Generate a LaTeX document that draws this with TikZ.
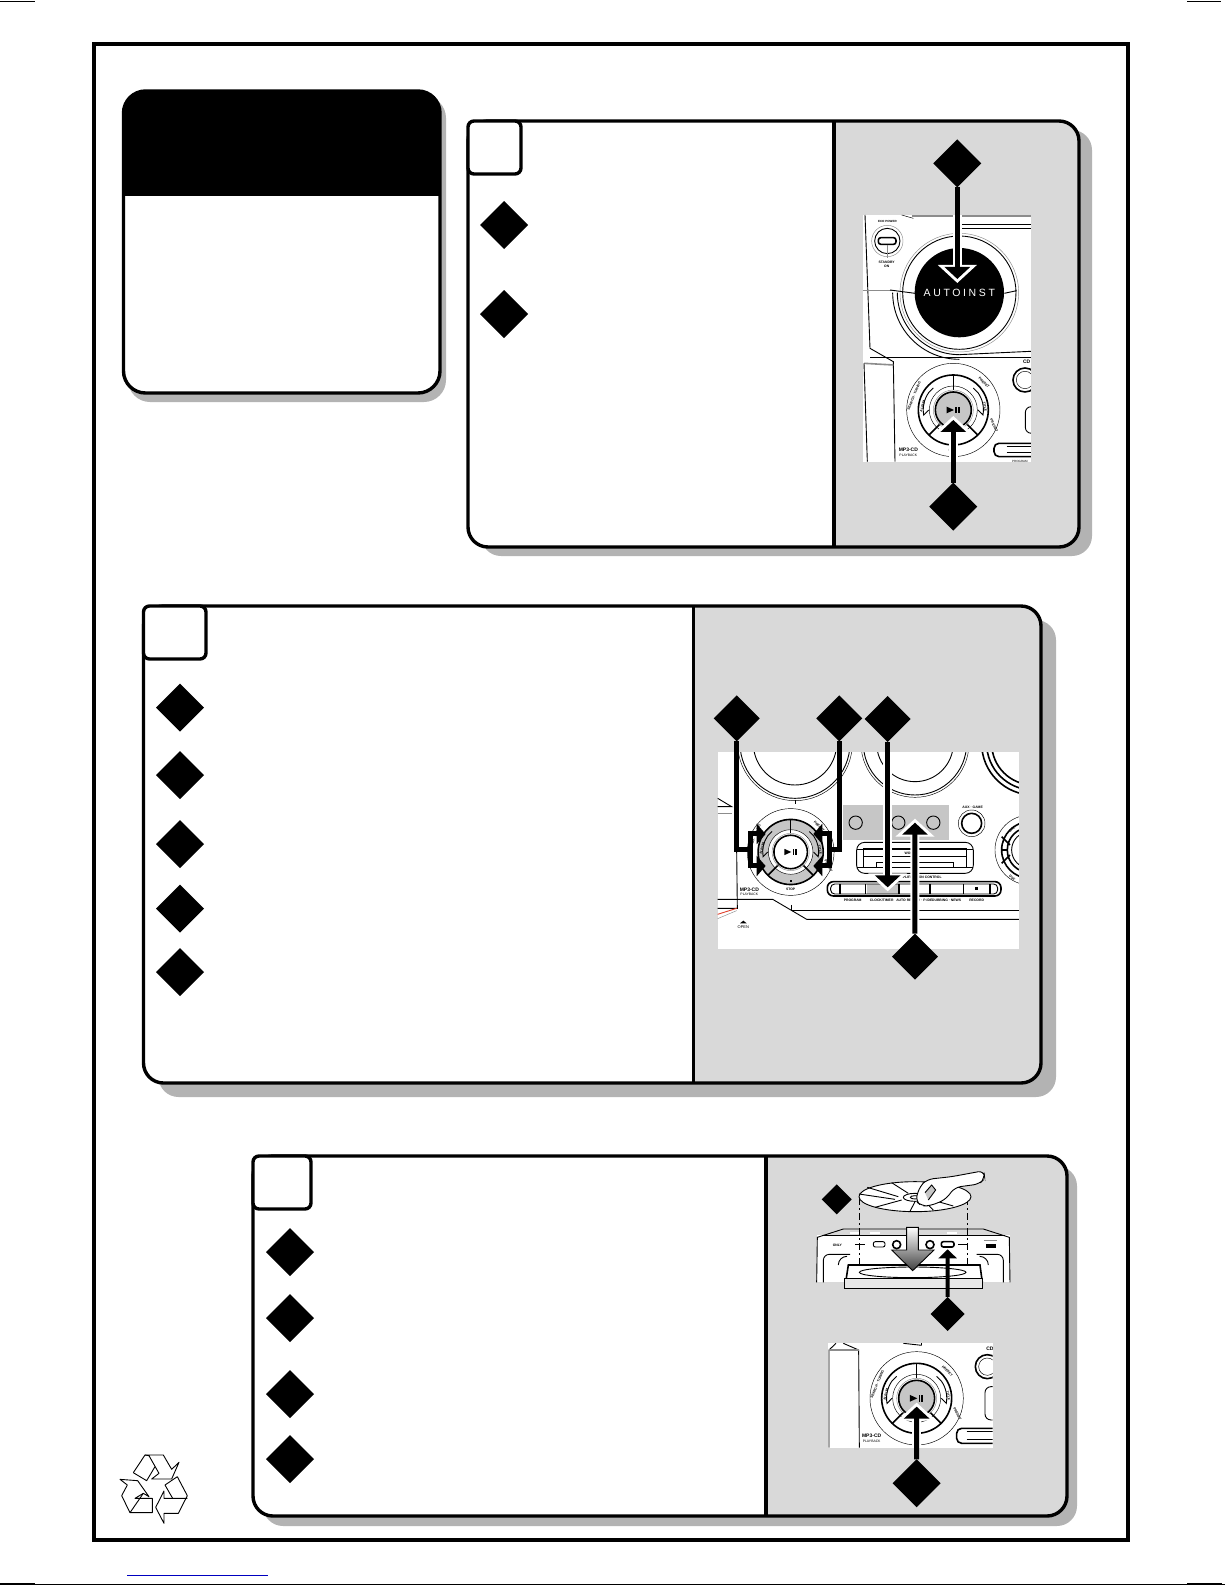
\documentclass[tikz,border=0pt]{standalone}
\usepackage{fontspec}
\setmainfont{Liberation Sans}
\usetikzlibrary{arrows.meta,shapes.geometric}
\definecolor{PanelGray}{HTML}{D9D9D9}
\definecolor{ShadowGray}{HTML}{B3B3B3}
\definecolor{KeyGray}{HTML}{C6C6C6}
\definecolor{RuleGray}{HTML}{8C8C8C}
\definecolor{LinkBlue}{HTML}{0000C0}
\definecolor{FlashRed}{HTML}{E0402C}
\tikzset{
  panelline/.style={line width=3.4pt},
  marker/.style={diamond,fill=black,inner sep=0pt,outer sep=0pt,aspect=1},
  stem/.style={line width=5pt,-{Triangle[length=12pt,width=25pt]}},
  halo/.style={white,line width=9pt,shorten >=-4pt,-{Triangle[length=18pt,width=38pt]}},
  bar/.style={line width=5pt},
  barhead/.style={line width=5pt,-{Triangle[length=9pt,width=20pt]}},
  fine/.style={line width=.45pt},
  mid/.style={line width=.9pt},
  heavy/.style={line width=1.6pt},
  micro/.style={font=\fontsize{3.4}{3.8}\selectfont\bfseries,inner sep=0pt,align=center},
  tagbig/.style={font=\fontsize{5}{5}\selectfont\bfseries,inner sep=0pt},
  dialsize/.style={xscale=#1,yscale=-#1},
  pics/playdial/.style 2 args={code={
    \draw[fine] (0,0) circle[radius=140];
    \draw[heavy,fill=#2] (0,0) circle[radius=105];
    \draw[fine,fill=white] (0,0) circle[radius=72];
    \draw[heavy] (0,-104) -- (0,-60);
    \draw[heavy] (-40,42) -- (-74,76);
    \draw[heavy] (40,42) -- (74,76);
    \draw[mid] (-60,-66) -- (-74,-52) arc[start angle=215,end angle=170,radius=90] -- (-74,0);
    \draw[mid] (60,-66) -- (74,-52) arc[start angle=-35,end angle=10,radius=90] -- (74,0);
    \draw[heavy,fill=#1] (0,0) circle[radius=54];
    \draw[RuleGray,fine] (0,0) circle[radius=60];
    \fill (-20,-10) -- (-20,10) -- (2,0) -- cycle;
    \fill (6,-10) rectangle (11,10);
    \fill (14,-10) rectangle (19,10);
    \fill (-3,90) rectangle (3,96);
    \node[micro,rotate=-45] (preset) at (92,-82) {PRESET};
    \node[micro,rotate=-78] (title) at (95,-8) {TITLE};
    \node[micro,rotate=-62] (presetlow) at (122,46) {PRESET};
    \node[micro,rotate=75] (album) at (-92,-12) {ALBUM};
    \node[micro,rotate=68] (search) at (-118,-42) {SEARCH · TUNING};
    \node[micro] (stop) at (0,122) {STOP};
  }}
}
\newcommand{\stepcard}[7]{
  \fill[ShadowGray,rounded corners=20pt] (#1+#6,#2+#7) rectangle (#3+#6,#4+#7);
  \fill[white,rounded corners=20pt] (#1,#2) rectangle (#3,#4);
  \begin{scope}
    \clip[rounded corners=20pt] (#1,#2) rectangle (#3,#4);
    \fill[PanelGray] (#5,#2) rectangle (#3,#4);
  \end{scope}
  \draw[panelline] (#5,#2) -- (#5,#4);
  \draw[panelline,rounded corners=20pt] (#1,#2) rectangle (#3,#4);
}
\begin{document}
\begin{tikzpicture}[x=1pt,y=1pt,yscale=-1]
\useasboundingbox (0,0) rectangle (1225,1585);
% crop marks and link
\draw[line width=1pt] (0,1.5) -- (35,1.5);
\draw[line width=1pt] (1187,1.5) -- (1221,1.5);
\draw[line width=.6pt] (0,1584.3) -- (1225,1584.3);
\draw[line width=1.2pt] (0,1584) -- (35,1584);
\draw[line width=1.2pt] (1187,1584) -- (1222,1584);
\draw[LinkBlue,line width=1pt] (127,1575) -- (268,1575);
\draw[line width=4pt] (94,43.5) rectangle (1128,1540);

% title card
\fill[ShadowGray,rounded corners=22pt] (128,96) rectangle (446,402);
\fill[white,rounded corners=22pt] (123.5,91) rectangle (440,393);
\begin{scope}
  \clip[rounded corners=22pt] (123.5,91) rectangle (440,393);
  \fill[black] (123.5,91) rectangle (440,196);
\end{scope}
\draw[panelline,rounded corners=22pt] (123.5,91) rectangle (440,393);

% step cards
\stepcard{468}{121}{1079}{547}{834}{13}{9}
\stepcard{143.5}{606}{1041}{1083}{693.5}{15}{14}
\stepcard{253}{1156}{1067}{1516}{766}{10}{10}
\draw[panelline,fill=white,rounded corners=6pt] (468,121) rectangle (521,174);
\draw[panelline,fill=white,rounded corners=6pt] (143.5,606) rectangle (206,659);
\draw[panelline,fill=white,rounded corners=6pt] (253,1156) rectangle (311,1209);

% list markers
\node[marker,minimum size=48pt] (oneA) at (504,225) {};
\node[marker,minimum size=48pt] (oneB) at (504,314) {};
\node[marker,minimum size=48pt] (twoA) at (180,707.5) {};
\node[marker,minimum size=48pt] (twoB) at (180,775) {};
\node[marker,minimum size=48pt] (twoC) at (180,844) {};
\node[marker,minimum size=48pt] (twoD) at (180,908.5) {};
\node[marker,minimum size=48pt] (twoE) at (180,972) {};
\node[marker,minimum size=48pt] (threeA) at (290,1252) {};
\node[marker,minimum size=48pt] (threeB) at (290,1318) {};
\node[marker,minimum size=48pt] (threeC) at (290,1394) {};
\node[marker,minimum size=48pt] (threeD) at (290,1459) {};

% front panel, display
\begin{scope}[shift={(840,130)},scale=.3333]
  \fill[white] (68,255) rectangle (573,995);
  \begin{scope}
    \clip (68,255) rectangle (573,995);
    \draw[RuleGray,heavy] (215,258) -- (573,258);
    \draw[fine] (185,255) -- (220,265);
    \draw[mid] (360,283) -- (573,283);
    \draw[mid] (365,296) -- (573,296);
    \draw[mid] (75,255) -- (90,655) -- (160,695) -- (165,995);
    \draw[RuleGray,heavy] (68,482) -- (155,482);
    \draw[RuleGray,heavy] (72,700) -- (160,705);
    \draw[mid] (72,700) -- (82,995);
    \draw[RuleGray,fine] (142,333) circle[radius=47];
    \draw[mid] (142,333) circle[radius=38];
    \draw[heavy,rounded corners=2.5pt] (115,323) rectangle (168,343);
    \draw[RuleGray,fine] (142,345) -- (142,385);
    \draw[RuleGray,fine] (358,488) circle[radius=178];
    \draw[mid] (358,488) circle[radius=170];
    \fill[black] (358,488) circle[radius=134];
    \draw[mid] (150,480) -- (225,490);
    \draw[mid] (493,490) -- (530,482);
    \draw[mid] (158,488) arc[start angle=180,end angle=90,radius=200];
    \draw[mid] (172,488) arc[start angle=180,end angle=90,radius=186];
    \draw[mid] (358,674) -- (573,664);
    \draw[fine] (90,683) -- (573,683);
    \draw[heavy] (555,750) circle[radius=36];
    \draw[fine] (555,750) circle[radius=26];
    \draw[mid,rounded corners=6pt] (556,830) rectangle (620,910);
    \draw[heavy,rounded corners=5pt] (462,940) rectangle (620,980);
    \draw[mid] (500,950) -- (573,950);
    \draw[mid] (500,968) -- (573,968);
    \pic[dialsize=.3333] at (340,840) {playdial={KeyGray}{white}};
    \node[font=\fontsize{3}{3}\selectfont\bfseries,inner sep=0pt] (ecoOne) at (142,274) {ECO POWER};
    \node[micro] (standbyOne) at (140,402) {STANDBY\\ON};
    \node[tagbig] (cdOne) at (560,695) {CD};
    \node[tagbig] (mpOne) at (205,958) {MP3-CD};
    \node[micro,font=\fontsize{3.4}{3.8}\selectfont] (playOne) at (205,977) {PLAYBACK};
    \node[micro,font=\fontsize{3}{3}\selectfont] (progOne) at (540,994) {PROGRAM};
    \node[white,inner sep=0pt,font=\fontsize{10.5}{11}\selectfont\addfontfeature{LetterSpace=25}] (lcd) at (358,490) {AUTOINST};
  \end{scope}
  \coordinate (edgeTop) at (352,255);
  \coordinate (tipTop) at (352,447);
  \coordinate (tipPlay) at (340,870);
  \coordinate (edgeLow) at (340,995);
  \node[marker,minimum size=48pt] (markTop) at (352,100) {};
  \node[marker,minimum size=48pt] (markLow) at (340,1130) {};
  \draw[halo] (edgeTop) -- (tipTop);
  \draw[halo] (edgeLow) -- (tipPlay);
  \draw[stem] (markTop) -- (tipTop);
  \draw[stem] (markLow) -- (tipPlay);
\end{scope}

% front panel, control row
\begin{scope}[shift={(700,680)},scale=.3333]
  \fill[white] (53,217) rectangle (957,807);
  \begin{scope}
    \clip (53,217) rectangle (957,807);
    \draw[mid] (285,190) circle[radius=165];
    \draw[mid] (285,190) circle[radius=125];
    \draw[fine] (285,190) circle[radius=172];
    \draw[fine] (285,360) -- (285,372);
    \draw[mid] (645,190) circle[radius=155];
    \draw[mid] (645,190) circle[radius=115];
    \draw[fine] (645,190) circle[radius=162];
    \draw[heavy] (1000,190) circle[radius=155];
    \draw[heavy] (1000,190) circle[radius=140];
    \draw[heavy] (1000,190) circle[radius=125];
    \draw[mid] (53,355) -- (95,380) -- (53,380);
    \draw[RuleGray,heavy] (53,400) -- (95,400);
    \fill[KeyGray] (430,375) rectangle (747,480);
    \draw[mid] (467,428) circle[radius=20];
    \draw[mid] (595,428) circle[radius=20];
    \draw[mid] (700,428) circle[radius=20];
    \draw[heavy] (815,430) circle[radius=30];
    \draw[fine] (815,430) circle[radius=40];
    \draw[fine] (990,510) circle[radius=105];
    \draw[heavy] (990,510) circle[radius=85];
    \draw[heavy] (990,510) circle[radius=68];
    \draw[mid] (990,510) circle[radius=55];
    \draw[heavy] (905,470) -- (930,495);
    \draw[heavy] (905,550) -- (930,525);
    \draw[heavy] (905,510) -- (925,510);
    \draw[mid,rounded corners=8pt,fill=white] (470,487) rectangle (820,580);
    \draw[heavy] (490,507) rectangle (800,562);
    \draw[mid] (490,530) -- (800,530);
    \draw[mid] (530,562) -- (530,548) -- (760,548) -- (760,562);
    \draw[fine] (470,507) -- (490,507);
    \draw[fine] (820,507) -- (800,507);
    \draw[fine] (470,562) -- (490,562);
    \draw[fine] (820,562) -- (800,562);
    \draw[heavy,rounded corners=6pt] (382,605) rectangle (903,648);
    \fill[KeyGray] (500,612) rectangle (597,642);
    \draw[mid,rounded corners=4pt] (392,612) rectangle (893,642);
    \draw[heavy] (420,612) -- (420,642);
    \draw[heavy] (497,612) -- (497,642);
    \draw[heavy] (597,612) -- (597,642);
    \draw[heavy] (690,612) -- (690,642);
    \draw[heavy] (790,612) -- (790,642);
    \draw[heavy] (870,612) -- (870,642);
    \fill (825,622) rectangle (833,630);
    \draw[mid] (53,658) -- (218,658) -- (320,718) -- (957,718);
    \draw[mid] (275,675) -- (275,690) -- (957,690);
    \draw[mid] (110,512) -- (112,685) -- (53,685);
    \draw[FlashRed,mid] (53,703) -- (110,685);
    \draw[RuleGray,fine] (53,716) -- (110,692);
    \fill (120,730) -- (140,730) -- (130,722) -- cycle;
    \pic[dialsize=.31] at (272,516) {playdial={white}{KeyGray}};
    \node[tagbig] (mpTwo) at (148,630) {MP3-CD};
    \node[micro,font=\fontsize{3.4}{3.8}\selectfont] (playTwo) at (148,643) {PLAYBACK};
    \node[micro,font=\fontsize{4}{4}\selectfont] (openTwo) at (130,741) {OPEN};
    \node[micro] (auxTwo) at (818,381) {AUX · GAME};
    \node[micro,fill=white] (wooxTwo) at (630,520) {WOOX};
    \node[micro,fill=white] (ampTwo) at (642,592) {LIGHT AMPLIFICATION CONTROL};
    \node[micro] (progTwo) at (458,662) {PROGRAM};
    \node[micro] (clockTwo) at (545,662) {CLOCK/TIMER};
    \node[micro] (autoTwo) at (643,662) {AUTO REPLAY · P-IDE};
    \node[micro] (dubTwo) at (740,662) {DUBBING · NEWS};
    \node[micro] (recTwo) at (830,662) {RECORD};
    \node[micro,rotate=40] (dscUp) at (937,447) {DSC};
    \node[micro,rotate=-40] (dscLow) at (937,595) {DSC};
  \end{scope}
  \node[marker,minimum size=46pt] (markLeft) at (110,115) {};
  \node[marker,minimum size=46pt] (markRight) at (418,115) {};
  \node[marker,minimum size=46pt] (markClock) at (563,117) {};
  \node[marker,minimum size=46pt] (markGroup) at (645,830) {};
  \coordinate (jLeft) at (110,510);
  \coordinate (kLeft) at (150,510);
  \coordinate (tipLeftUp) at (197,462);
  \coordinate (tipLeftDown) at (197,558);
  \coordinate (jRight) at (418,510);
  \coordinate (kRight) at (388,510);
  \coordinate (tipRightUp) at (340,462);
  \coordinate (tipRightDown) at (340,558);
  \coordinate (edgeClock) at (563,217);
  \coordinate (tipClock) at (563,622);
  \coordinate (tipGroup) at (645,428);
  \draw[bar,line join=miter] (markLeft) -- (jLeft) -- (kLeft);
  \draw[barhead] (kLeft) |- (tipLeftUp);
  \draw[barhead] (kLeft) |- (tipLeftDown);
  \draw[bar,line join=miter] (markRight) -- (jRight) -- (kRight);
  \draw[barhead] (kRight) |- (tipRightUp);
  \draw[barhead] (kRight) |- (tipRightDown);
  \draw[halo] (edgeClock) -- (tipClock);
  \draw[halo] (markGroup) -- (tipGroup);
  \draw[stem] (markClock) -- (tipClock);
  \draw[stem] (markGroup) -- (tipGroup);
\end{scope}

% disc tray and dial
\begin{scope}[shift={(780,1150)},scale=.3333]
  \fill[white] (110,255) rectangle (690,397);
  \draw[mid] (110,397) -- (112,262) -- (190,237) -- (610,237) -- (688,262) -- (690,397);
  \draw[fine] (125,255) -- (675,255);
  \fill[white] (210,245) rectangle (240,251);
  \fill[white] (270,245) rectangle (300,251);
  \fill[white] (500,245) rectangle (530,251);
  \draw[mid,rounded corners=6pt] (130,397) -- (130,313) -- (210,313);
  \draw[mid,rounded corners=6pt] (670,397) -- (670,313) -- (590,313);
  \draw[mid] (175,345) arc[start angle=180,end angle=270,radius=26];
  \draw[mid] (625,345) arc[start angle=0,end angle=-90,radius=26];
  \draw[mid] (225,283) -- (255,283);
  \draw[mid] (535,283) -- (565,283);
  \draw[mid,rounded corners=2pt] (280,275) rectangle (315,291);
  \draw[heavy,fill=white,rounded corners=2pt] (484,275) rectangle (522,291);
  \draw[heavy,fill=white] (350,284) circle[radius=12];
  \draw[heavy,fill=white] (450,284) circle[radius=12];
  \fill (618,281) rectangle (648,293);
  \draw[RuleGray,line width=.8pt] (612,272) -- (652,272);
  \node[micro] (onlyThree) at (172,285) {ONLY};
  \fill[white] (205,345) rectangle (600,385);
  \draw[heavy] (197,397) -- (205,345) -- (600,345) -- (607,397);
  \draw[mid] (398,367) ellipse[x radius=160,y radius=16];
  \draw[heavy,fill=KeyGray!40!white] (193,385) rectangle (607,415);
  \draw[mid,dash pattern=on 7pt off 3pt on 2pt off 3pt] (238,145) -- (238,345);
  \draw[mid,dash pattern=on 7pt off 3pt on 2pt off 3pt] (563,145) -- (563,345);
  \shade[draw=black,mid,top color=white,bottom color=black!75] (380,232) -- (415,232) -- (415,300) -- (462,300) -- (398,362) -- (335,300) -- (380,300) -- cycle;
  \draw[mid,fill=white] (405,140) ellipse[x radius=168,y radius=45];
  \draw[mid] (237,132) -- (345,148);
  \draw[mid] (262,112) -- (355,140);
  \draw[mid] (335,98) -- (385,130);
  \draw[mid] (460,180) -- (430,150);
  \draw[mid] (390,184) -- (405,155);
  \draw[mid] (285,172) -- (365,150);
  \draw[mid] (520,168) -- (450,148);
  \draw[mid] (405,142) ellipse[x radius=35,y radius=12];
  \draw[mid] (405,142) ellipse[x radius=14,y radius=5];
  \draw[mid,fill=white,rounded corners=6pt] (406,152) -- (420,108) -- (442,88) -- (515,80) -- (612,62) -- (614,86) -- (598,102) -- (525,112) -- (495,150) -- (448,168) -- (425,168) -- cycle;
  \fill[KeyGray] (435,128) -- (455,105) -- (467,120) -- (445,150) -- cycle;
  \draw[mid] (435,128) -- (455,105) -- (467,120) -- (445,150);
  \node[marker,minimum size=30pt] (markDisc) at (170,148) {};
  \fill[white] (143,580) rectangle (638,893);
  \begin{scope}
    \clip (143,580) rectangle (638,893);
    \draw[mid] (147,893) -- (147,600) -- (168,580);
    \draw[mid] (190,580) -- (236,600) -- (238,893);
    \draw[heavy,RuleGray] (147,600) -- (236,600);
    \draw[mid] (370,580) -- (425,586);
    \draw[mid] (425,580) -- (425,586);
    \draw[heavy] (622,650) circle[radius=36];
    \draw[fine] (622,650) circle[radius=26];
    \draw[mid,rounded corners=6pt] (615,710) rectangle (680,810);
    \draw[heavy,rounded corners=5pt] (530,835) rectangle (680,880);
    \draw[mid] (560,845) -- (638,845);
    \draw[mid] (560,868) -- (638,868);
    \pic[dialsize=.3333] at (410,745) {playdial={KeyGray}{white}};
    \node[tagbig] (cdThree) at (630,597) {CD};
    \node[tagbig] (mpThree) at (275,858) {MP3-CD};
    \node[micro,font=\fontsize{3.4}{3.8}\selectfont] (playThree) at (275,875) {PLAYBACK};
  \end{scope}
  \node[marker,minimum size=34pt] (markOpen) at (503,492) {};
  \node[marker,minimum size=48pt] (markPlay) at (410,1000) {};
  \coordinate (tipOpen) at (503,298);
  \coordinate (edgePlay) at (410,893);
  \coordinate (tipStart) at (410,770);
  \draw[line width=4pt,-{Triangle[length=9pt,width=18pt]}] (markOpen) -- (tipOpen);
  \draw[halo] (edgePlay) -- (tipStart);
  \draw[stem] (markPlay) -- (tipStart);
\end{scope}

% recycling mark
\begin{scope}[shift={(100,1430)},scale=.3333,line join=round]
  \draw[mid,fill=white] (100,128) -- (135,75) -- (190,75) -- (215,118) -- (237,97) -- (215,147) -- (155,147) -- (177,130) -- (147,77);
  \draw[mid] (135,75) -- (147,77);
  \draw[mid] (100,128) -- (140,152) -- (165,110);
  \draw[mid,fill=white] (232,140) -- (262,197) -- (235,250) -- (192,250) -- (192,280) -- (167,232) -- (192,183) -- (192,205) -- (262,205);
  \draw[mid] (195,165) -- (232,140);
  \draw[mid] (195,165) -- (218,205);
  \draw[mid,fill=white] (60,148) -- (113,152) -- (147,200) -- (130,190) -- (105,205) -- (157,205) -- (157,248) -- (90,248) -- (65,197) -- (82,165) -- cycle;
  \draw[mid] (130,190) -- (90,248);
\end{scope}
\end{tikzpicture}
\end{document}
